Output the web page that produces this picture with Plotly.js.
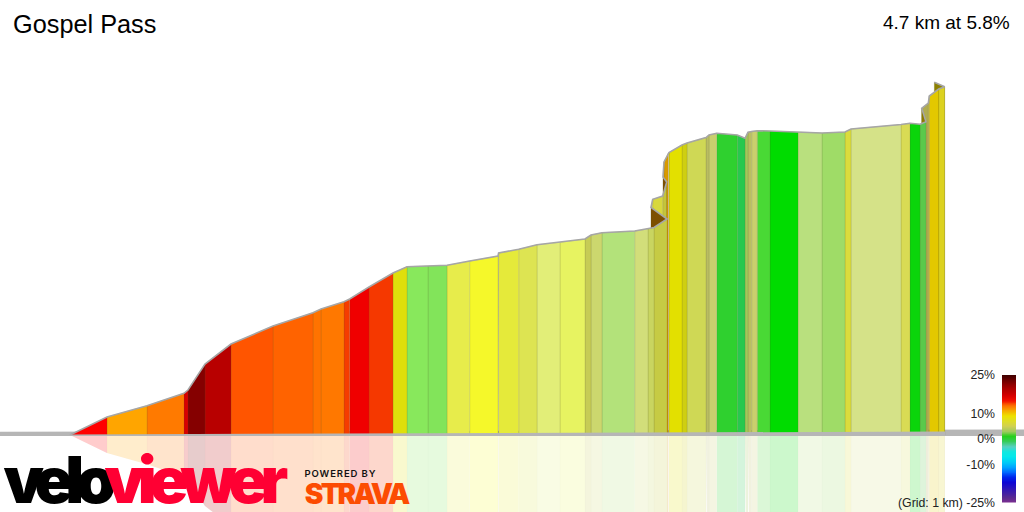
<!DOCTYPE html>
<html>
<head>
<meta charset="utf-8">
<script src="https://cdn.plot.ly/plotly-3.0.1.min.js"></script>
<style>
html,body{margin:0;padding:0;background:#fff;overflow:hidden}
#chart{width:1024px;height:512px}
.annotation[data-index="2"] text{letter-spacing:-8.2px}
.annotation[data-index="3"] text{letter-spacing:-7.2px}
.annotation[data-index="4"] text{letter-spacing:.9px}
.annotation[data-index="5"] text{letter-spacing:-2.6px}
</style>
</head>
<body>
<div id="chart"></div>
<script>
// Profile points, in order along the climb (the drawing projection can step backwards).
const distance = [70,107,147,184,188,205,231,273,313,321,344,349.7,369,393,407,428,447,469.7,498,498.6,518.7,537,560,585,591,602,634.7,648,654,667,651,652.7,662.7,666.7,663,664,668.3,669,682,687,706,709,716.7,737.3,745,748,751.7,757.3,770,798,822,845,851,901,910,920,926,921.7,928.3,929.3,938.7,944.7,934.3];
const elevation = [0,18,29.3,41.7,45,71,91,109,122.3,126,133.3,136,148,162,168.3,169,169.7,174,179,182,185.7,190.3,192.7,196,200,202.3,204,206,207.5,216,227.7,235.7,239,253,258,273,282,282.5,290,292,297.5,300,301.7,300,296.7,302.7,303.5,304.3,304,303,302,303,306,310.5,311.7,310.7,313.3,326.7,332,339,346,348.3,352.7];
// Colour of the stretch that ends at each profile point (first point has none).
const segmentColors = ['#ff0000','#ffa500','#ff7a00','#d80000','#850000','#b80000','#ff5500','#ff6300','#ff7300','#ff7800','#f53c00','#f00000','#f53800','#dfdf0b','#88e85c','#82e45a','#e7ec4b','#f5f82a','#e5ea3a','#e5ea3a','#dde452','#e2ee78','#e7f361','#c6cc55','#ccd76e','#b3e27a','#d2de7a','#c9d560','#c6cb44','#7d4f00','#d8d83c','#d8d83c','#c4c43c','#7d4f00','#d99a00','#d99a00','#d99a00','#e3e000','#cfcf10','#cfd855','#b9bd62','#c9cf6e','#2fd02f','#28c84e','#a3c85a','#b9c060','#c9cf6e','#49d935','#00dc00','#b9e07e','#9fdc67','#dbdc3c','#d5e288','#d9db54','#0bd50b','#5bc94b','#8c7a00','#b0ac50','#c8b820','#e3c800','#dcd220','#8c8000'];

const backBandX = [0,1024];
const backBandTop = [3.2,5.5];
const backBandBottom = [-1,-1];
const frontBandX = [70,945];
const frontBandTop = [0.5,3.5];
const frontBandBottom = [-1,-1];
const bandColor = '#b6b6b6';

// Legend gradient: grade (%) against colour.
const gradeStops = [-25,-23,-16,-13.3,-10.7,-7.5,-5,-2.3,0.3,1.5,3.6,6,8.8,12.7,15.3,20.5,25];
const gradeColors = ['#803090','#5a2a90','#0000e0','#0060ff','#00b0ff','#00e8f0','#10e8e0','#70c8b8','#00d000','#40d030','#c8c870','#d8d840','#ece800','#ff8000','#f00000','#a00000','#400000'];
const gradeRows = [-25,-23,-21,-19,-17,-15,-13,-11,-9,-7,-5,-3,-1,1,3,5,7,9,11,13,15,17,19,21,23,25];
const legendTicks = [25,10,0,-10,-25];
const legendLabels = ['25%','10%','0%','-10%','(Grid: 1 km) -25%'];

function fade(hex, keep){
  const n = parseInt(hex.slice(1),16);
  const c = [n>>16&255,n>>8&255,n&255].map(v=>Math.round(255-(255-v)*keep));
  return 'rgb('+c.join(',')+')';
}
function band(xs,top,bot){
  return {type:'scatter',mode:'lines',x:xs.concat(xs.slice().reverse()),y:top.concat(bot.slice().reverse()),
    fill:'toself',fillcolor:bandColor,line:{width:0},hoverinfo:'skip',showlegend:false};
}

const traces = [band(backBandX,backBandTop,backBandBottom)];
// Later stretches first, so that earlier ones sit in front where the profile folds back.
for(let i=distance.length-1;i>=1;i--){
  const xs=[distance[i-1],distance[i-1],distance[i],distance[i],distance[i-1]];
  const hi=[0,elevation[i-1],elevation[i],0,0];
  const col=segmentColors[i-1];
  traces.push({type:'scatter',mode:'lines',x:xs,y:hi.map(v=>-v),fill:'toself',fillcolor:fade(col,0.2),
    line:{width:0.6,color:'rgba(0,0,0,0.015)'},hoverinfo:'skip',showlegend:false});
  traces.push({type:'scatter',mode:'lines',x:xs,y:hi,fill:'toself',fillcolor:col,
    line:{width:0.8,color:'rgba(90,90,40,0.18)'},hoverinfo:'skip',showlegend:false});
}
// Grey outline along the profile
traces.push({type:'scatter',mode:'lines',x:distance,y:elevation,line:{color:'#a6a6a6',width:1.6},hoverinfo:'skip',showlegend:false});
// Road band in front of the stretches' feet
traces.push(band(frontBandX,frontBandTop,frontBandBottom));
// Gradient legend
traces.push({type:'heatmap',xaxis:'x2',yaxis:'y2',x:[0],y:gradeRows,z:gradeRows.map(g=>[g]),zmin:-25,zmax:25,zsmooth:'fast',
  colorscale:gradeStops.map((g,i)=>[(g+25)/50,gradeColors[i]]),showscale:false,hoverinfo:'skip'});

const sans='"Liberation Sans",Arial,sans-serif';
const logo='Inter,"Liberation Sans",sans-serif';
const layout={
  width:1024,height:512,margin:{l:0,r:0,t:0,b:0},paper_bgcolor:'#fff',plot_bgcolor:'rgba(0,0,0,0)',showlegend:false,
  xaxis:{domain:[0,1],range:[0,1024],visible:false,fixedrange:true},
  yaxis:{domain:[0,1],range:[-77,435],visible:false,fixedrange:true},
  xaxis2:{domain:[1002/1024,1016/1024],anchor:'y2',range:[-0.5,0.5],visible:false,fixedrange:true},
  yaxis2:{domain:[9.5/512,137/512],anchor:'x2',range:[-25,25],side:'left',tickmode:'array',tickvals:legendTicks,ticktext:legendLabels,
    showgrid:false,zeroline:false,showline:false,ticks:'',ticklen:0,tickfont:{family:sans,size:12.3,color:'#222'},ticklabelstandoff:6,automargin:false},
  annotations:[
    {xref:'paper',yref:'paper',x:84.7/1024,y:1-24/512,xanchor:'center',yanchor:'middle',text:'Gospel Pass',showarrow:false,font:{family:sans,size:25.3,color:'#000'}},
    {xref:'paper',yref:'paper',x:946.8/1024,y:1-22/512,xanchor:'center',yanchor:'middle',text:'4.7 km at 5.8%',showarrow:false,font:{family:sans,size:19,color:'#000'}},
    {xref:'paper',yref:'paper',x:55/1024,y:1-479/512,xanchor:'center',yanchor:'middle',text:'velo',showarrow:false,font:{family:logo,size:64,weight:900,color:'#000'}},
    {xref:'paper',yref:'paper',x:193/1024,y:1-479/512,xanchor:'center',yanchor:'middle',text:'viewer',showarrow:false,font:{family:logo,size:64,weight:900,color:'#ff0033'}},
    {xref:'paper',yref:'paper',x:340/1024,y:1-473.5/512,xanchor:'center',yanchor:'middle',text:'POWERED BY',showarrow:false,font:{family:logo,size:9.5,weight:600,color:'#111'}},
    {xref:'paper',yref:'paper',x:355.5/1024,y:1-494/512,xanchor:'center',yanchor:'middle',text:'STRAVA',showarrow:false,font:{family:logo,size:28,weight:900,color:'#fc4c02'}}
  ]
};
Plotly.newPlot('chart',traces,layout,{staticPlot:true,displayModeBar:false});
</script>
</body>
</html>
